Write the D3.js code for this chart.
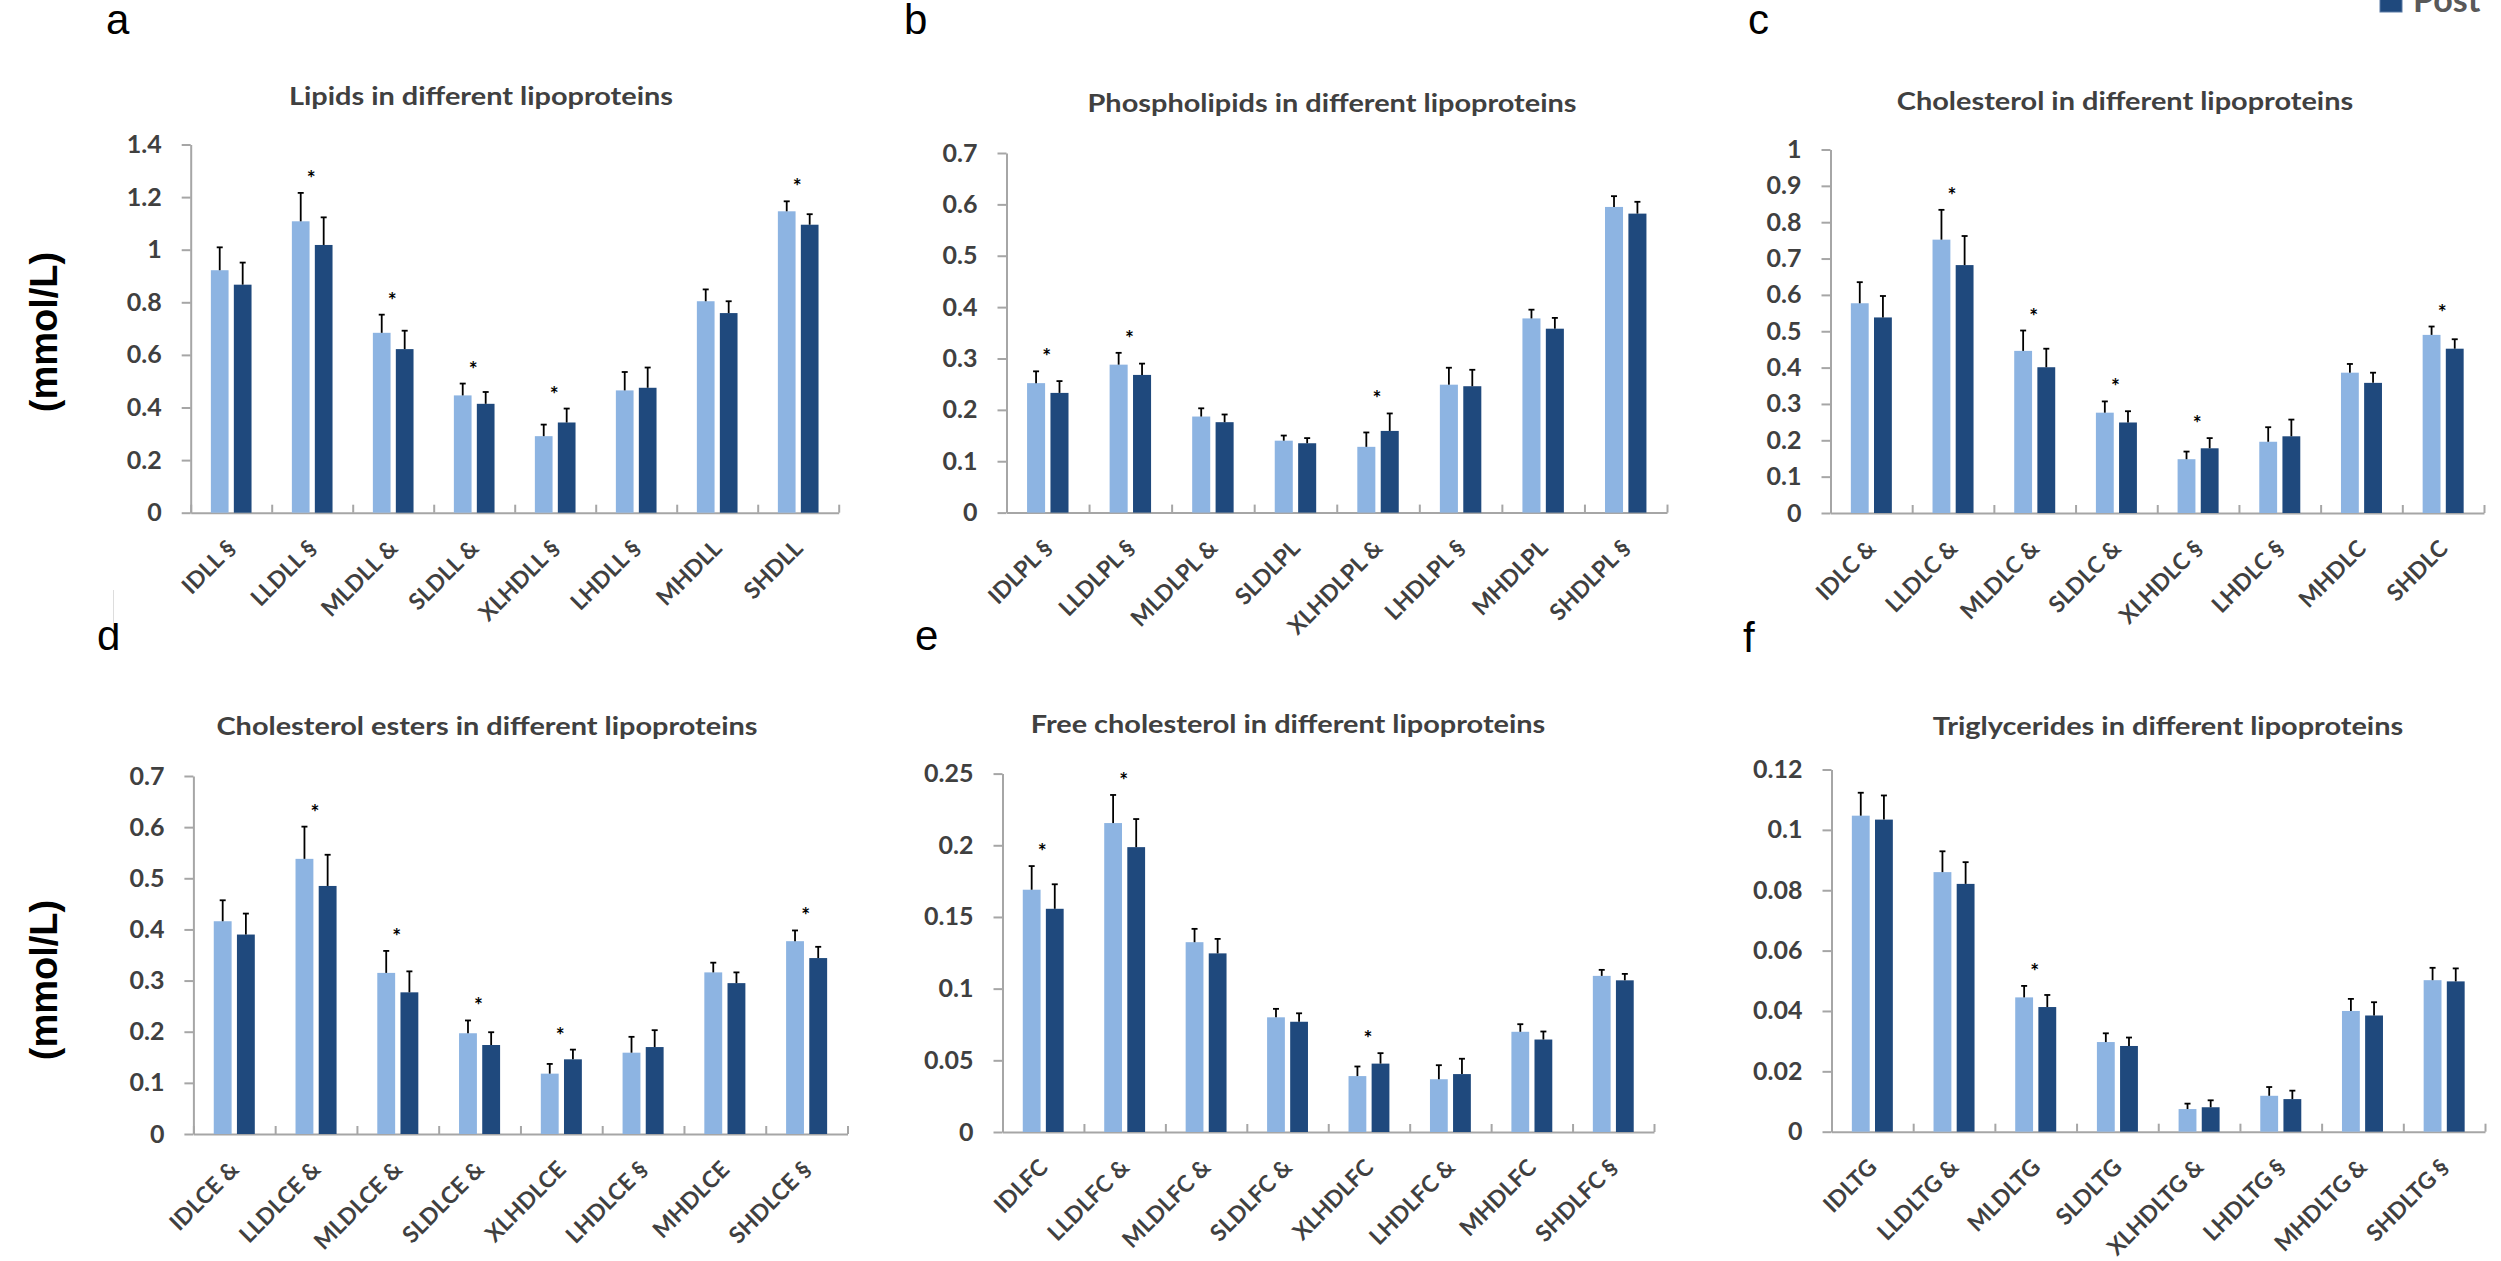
<!DOCTYPE html>
<html><head><meta charset="utf-8">
<script src="https://cdn.jsdelivr.net/npm/d3@7"></script>
<style>html,body{margin:0;padding:0;background:#fff;} svg{display:block}</style>
</head><body>
<svg id="chart" width="2501" height="1261"></svg>
<script>
// ---------- DATA ----------
const seriesNames = ["Pre", "Post"];

const lipidCats = ["IDLL §","LLDLL §","MLDLL &","SLDLL &","XLHDLL §","LHDLL §","MHDLL","SHDLL"];
const lipidPre = [0.922,1.108,0.684,0.446,0.291,0.465,0.804,1.146];
const lipidPreErr = [0.087,0.108,0.069,0.045,0.044,0.070,0.045,0.038];
const lipidPost = [0.867,1.018,0.622,0.414,0.343,0.475,0.759,1.095];
const lipidPostErr = [0.084,0.105,0.070,0.045,0.053,0.077,0.045,0.040];
const lipidStars = [0,1,1,1,1,0,0,1];
const lipidTicks = [0,0.2,0.4,0.6,0.8,1,1.2,1.4];
const lipidTickLabels = ["0","0.2","0.4","0.6","0.8","1","1.2","1.4"];

const phosphoCats = ["IDLPL §","LLDLPL §","MLDLPL &","SLDLPL","XLHDLPL &","LHDLPL §","MHDLPL","SHDLPL §"];
const phosphoPre = [0.252,0.288,0.187,0.140,0.128,0.249,0.378,0.595];
const phosphoPreErr = [0.023,0.023,0.016,0.010,0.028,0.033,0.017,0.021];
const phosphoPost = [0.233,0.268,0.176,0.135,0.159,0.246,0.358,0.582];
const phosphoPostErr = [0.023,0.022,0.015,0.010,0.034,0.032,0.021,0.023];
const phosphoStars = [1,1,0,0,1,0,0,0];
const phosphoTicks = [0,0.1,0.2,0.3,0.4,0.5,0.6,0.7];
const phosphoTickLabels = ["0","0.1","0.2","0.3","0.4","0.5","0.6","0.7"];

const cholCats = ["IDLC &","LLDLC &","MLDLC &","SLDLC &","XLHDLC §","LHDLC §","MHDLC","SHDLC"];
const cholPre = [0.577,0.752,0.446,0.276,0.148,0.196,0.386,0.490];
const cholPreErr = [0.058,0.082,0.056,0.031,0.021,0.040,0.024,0.023];
const cholPost = [0.538,0.682,0.401,0.249,0.178,0.211,0.358,0.452];
const cholPostErr = [0.059,0.080,0.051,0.031,0.028,0.046,0.028,0.026];
const cholStars = [0,1,1,1,1,0,0,1];
const cholTicks = [0,0.1,0.2,0.3,0.4,0.5,0.6,0.7,0.8,0.9,1];
const cholTickLabels = ["0","0.1","0.2","0.3","0.4","0.5","0.6","0.7","0.8","0.9","1"];

const esterCats = ["IDLCE &","LLDLCE &","MLDLCE &","SLDLCE &","XLHDLCE","LHDLCE §","MHDLCE","SHDLCE §"];
const esterPre = [0.416,0.538,0.315,0.197,0.118,0.159,0.316,0.377];
const esterPreErr = [0.041,0.063,0.043,0.025,0.019,0.031,0.019,0.021];
const esterPost = [0.390,0.485,0.277,0.174,0.146,0.170,0.295,0.344];
const esterPostErr = [0.041,0.061,0.041,0.025,0.019,0.033,0.021,0.022];
const esterStars = [0,1,1,1,1,0,0,1];
const esterTicks = [0,0.1,0.2,0.3,0.4,0.5,0.6,0.7];
const esterTickLabels = ["0","0.1","0.2","0.3","0.4","0.5","0.6","0.7"];

const freeCats = ["IDLFC","LLDLFC &","MLDLFC &","SLDLFC &","XLHDLFC","LHDLFC &","MHDLFC","SHDLFC §"];
const freePre = [0.1690,0.2155,0.1324,0.0800,0.0390,0.0368,0.0699,0.1089];
const freePreErr = [0.0165,0.0196,0.0093,0.0059,0.0067,0.0098,0.0053,0.0042];
const freePost = [0.1557,0.1987,0.1246,0.0769,0.0477,0.0404,0.0645,0.1058];
const freePostErr = [0.0171,0.0196,0.0101,0.0059,0.0073,0.0107,0.0056,0.0045];
const freeStars = [1,1,0,0,1,0,0,0];
const freeTicks = [0,0.05,0.1,0.15,0.2,0.25];
const freeTickLabels = ["0","0.05","0.1","0.15","0.2","0.25"];

const trigCats = ["IDLTG","LLDLTG &","MLDLTG","SLDLTG","XLHDLTG &","LHDLTG §","MHDLTG &","SHDLTG §"];
const trigPre = [0.1047,0.0860,0.0445,0.0297,0.0075,0.0119,0.0400,0.0502];
const trigPreErr = [0.0076,0.0069,0.0038,0.0029,0.0018,0.0029,0.0040,0.0041];
const trigPost = [0.1034,0.0821,0.0413,0.0284,0.0081,0.0108,0.0385,0.0498];
const trigPostErr = [0.0080,0.0072,0.0040,0.0028,0.0023,0.0028,0.0044,0.0043];
const trigStars = [0,0,1,0,0,0,0,0];
const trigTicks = [0,0.02,0.04,0.06,0.08,0.1,0.12];
const trigTickLabels = ["0","0.02","0.04","0.06","0.08","0.1","0.12"];

const panelLetters = ["a","b","c","d","e","f"];
const panelTitles = [
  "Lipids in different lipoproteins",
  "Phospholipids in different lipoproteins",
  "Cholesterol in different lipoproteins",
  "Cholesterol esters in different lipoproteins",
  "Free cholesterol in different lipoproteins",
  "Triglycerides in different lipoproteins"
];
const yUnit = "(mmol/L)";

// ---------- STYLE / LAYOUT ----------
const COL_PRE = "#8DB4E2", COL_POST = "#1F497D";
const AXIS_COL = "#A6A6A6", TEXT_COL = "#404040";
const FONT = "Lato, 'Open Sans', sans-serif";

const panels = [
  {cats:lipidCats, pre:lipidPre, preErr:lipidPreErr, post:lipidPost, postErr:lipidPostErr, stars:lipidStars, ticks:lipidTicks, tl:lipidTickLabels},
  {cats:phosphoCats, pre:phosphoPre, preErr:phosphoPreErr, post:phosphoPost, postErr:phosphoPostErr, stars:phosphoStars, ticks:phosphoTicks, tl:phosphoTickLabels},
  {cats:cholCats, pre:cholPre, preErr:cholPreErr, post:cholPost, postErr:cholPostErr, stars:cholStars, ticks:cholTicks, tl:cholTickLabels},
  {cats:esterCats, pre:esterPre, preErr:esterPreErr, post:esterPost, postErr:esterPostErr, stars:esterStars, ticks:esterTicks, tl:esterTickLabels},
  {cats:freeCats, pre:freePre, preErr:freePreErr, post:freePost, postErr:freePostErr, stars:freeStars, ticks:freeTicks, tl:freeTickLabels},
  {cats:trigCats, pre:trigPre, preErr:trigPreErr, post:trigPost, postErr:trigPostErr, stars:trigStars, ticks:trigTicks, tl:trigTickLabels}
];
const geo = [
  {x0:190.7, x1:838.7, yT:144.5, y0:512.7, tcx:481,  tby:105, lx:106,  ly:34},
  {x0:1006.5,x1:1667,  yT:153,   y0:512.6, tcx:1332, tby:112, lx:904,  ly:34},
  {x0:1830.5,x1:2484,  yT:149.5, y0:513,   tcx:2125, tby:110, lx:1748, ly:34},
  {x0:193.4, x1:847.5, yT:776,   y0:1134,  tcx:487,  tby:735, lx:97,   ly:650},
  {x0:1002.5,x1:1654,  yT:773.6, y0:1132,  tcx:1288, tby:733, lx:915,  ly:650},
  {x0:1831.5,x1:2485,  yT:769.5, y0:1131.7,tcx:2168, tby:735, lx:1743, ly:652}
];

const svg = d3.select("#chart");
svg.append("rect").attr("width",2501).attr("height",1261).attr("fill","#fff");

panels.forEach((p, i) => {
  const g = geo[i];
  const n = p.cats.length;
  const y = d3.scaleLinear().domain([0, p.ticks[p.ticks.length-1]]).range([g.y0, g.yT]);
  const x = d3.scaleBand().domain(p.cats).range([g.x0, g.x1]);
  const xb = d3.scaleLinear().domain([0, n]).range([g.x0, g.x1]);
  const bw = x.bandwidth();
  const barW = bw * 0.2185, gap = bw * 0.065;
  const G = svg.append("g");

  // panel letter
  G.append("text").attr("x", g.lx).attr("y", g.ly).text(panelLetters[i])
    .attr("font-family","'Liberation Sans', Arial, sans-serif").attr("font-size",42).attr("fill","#000");

  // title (slightly wide, like the original)
  G.append("text").attr("transform", `translate(${g.tcx},${g.tby}) scale(1.18,1)`).attr("text-anchor","middle")
    .attr("font-family",FONT).attr("font-weight","bold").attr("font-size",24.5).attr("fill",TEXT_COL)
    .text(panelTitles[i]);

  // y axis
  const ya = G.append("g").attr("transform",`translate(${g.x0},0)`)
    .call(d3.axisLeft(y).tickValues(p.ticks).tickFormat((d,k)=>p.tl[k]).tickSize(9).tickSizeOuter(0).tickPadding(20));
  ya.select(".domain").attr("stroke",AXIS_COL).attr("stroke-width",2);
  ya.selectAll(".tick line").attr("stroke",AXIS_COL).attr("stroke-width",2);
  ya.selectAll(".tick text").attr("font-family",FONT).attr("font-weight","bold").attr("font-size",25).attr("fill",TEXT_COL);

  // x axis (tick marks at category boundaries, pointing up)
  const xa = G.append("g").attr("transform",`translate(0,${g.y0})`)
    .call(d3.axisBottom(xb).tickValues(d3.range(n+1)).tickFormat("").tickSize(-8).tickSizeOuter(0));
  xa.select(".domain").attr("stroke",AXIS_COL).attr("stroke-width",2);
  xa.selectAll(".tick line").attr("stroke",AXIS_COL).attr("stroke-width",2);

  // category labels
  G.append("g").selectAll("text").data(p.cats).join("text")
    .attr("transform", d => `translate(${x(d)+bw/2+6},${g.y0+37}) rotate(-45)`)
    .attr("text-anchor","end")
    .attr("font-family",FONT).attr("font-weight","bold").attr("font-size",23).attr("fill",TEXT_COL)
    .text(d => d);

  const rows = p.cats.map((c,k) => ({c, pre:p.pre[k], preErr:p.preErr[k], post:p.post[k], postErr:p.postErr[k], star:p.stars[k]}));
  const cx = d => x(d.c) + bw/2;

  // bars
  G.append("g").selectAll("rect").data(rows).join("rect")
    .attr("x", d => cx(d) - gap/2 - barW).attr("width", barW)
    .attr("y", d => y(d.pre)).attr("height", d => y(0) - y(d.pre)).attr("fill", COL_PRE);
  G.append("g").selectAll("rect").data(rows).join("rect")
    .attr("x", d => cx(d) + gap/2).attr("width", barW)
    .attr("y", d => y(d.post)).attr("height", d => y(0) - y(d.post)).attr("fill", COL_POST);

  // error bars (upper only)
  const eb = G.append("g").attr("stroke","#000").attr("stroke-width",1.8);
  rows.forEach(d => {
    [[cx(d) - gap/2 - barW/2, d.pre, d.preErr],[cx(d) + gap/2 + barW/2, d.post, d.postErr]].forEach(([ex, v, e]) => {
      eb.append("line").attr("x1",ex).attr("x2",ex).attr("y1",y(v)).attr("y2",y(v+e));
      eb.append("line").attr("x1",ex-3).attr("x2",ex+3).attr("y1",y(v+e)).attr("y2",y(v+e));
    });
  });

  // significance stars
  G.append("g").selectAll("text").data(rows.filter(d => d.star)).join("text")
    .attr("x", d => cx(d) - 1)
    .attr("y", d => Math.min(y(d.pre+d.preErr), y(d.post+d.postErr)) - 7)
    .attr("text-anchor","middle").attr("font-family",FONT).attr("font-weight","bold")
    .attr("font-size",21).attr("fill","#000").text("*");
});

// the ascender of the "d" is hidden in the original composite
svg.append("rect").attr("x",113).attr("y",590).attr("width",12).attr("height",33).attr("fill","#fff");
svg.append("line").attr("x1",113.5).attr("x2",113.5).attr("y1",590).attr("y2",623).attr("stroke","#ddd").attr("stroke-width",1);

// y unit labels
[332, 980].forEach(cy => {
  svg.append("text").attr("transform",`translate(57,${cy}) rotate(-90)`).attr("text-anchor","middle")
    .attr("font-family","'Liberation Sans', Arial, sans-serif").attr("font-weight","bold").attr("font-size",38).attr("fill","#000")
    .text(yUnit);
});

// legend (only the lower entry is within the frame)
const lg = svg.append("g");
lg.append("rect").attr("x",2380).attr("y",-12).attr("width",22).attr("height",24).attr("fill",COL_POST).attr("stroke","#5a7aa5").attr("stroke-width",1);
lg.append("text").attr("x",2413).attr("y",12).attr("font-family",FONT).attr("font-weight","bold").attr("font-size",34).attr("fill","#595959").text(seriesNames[1]);
</script>
</body></html>
